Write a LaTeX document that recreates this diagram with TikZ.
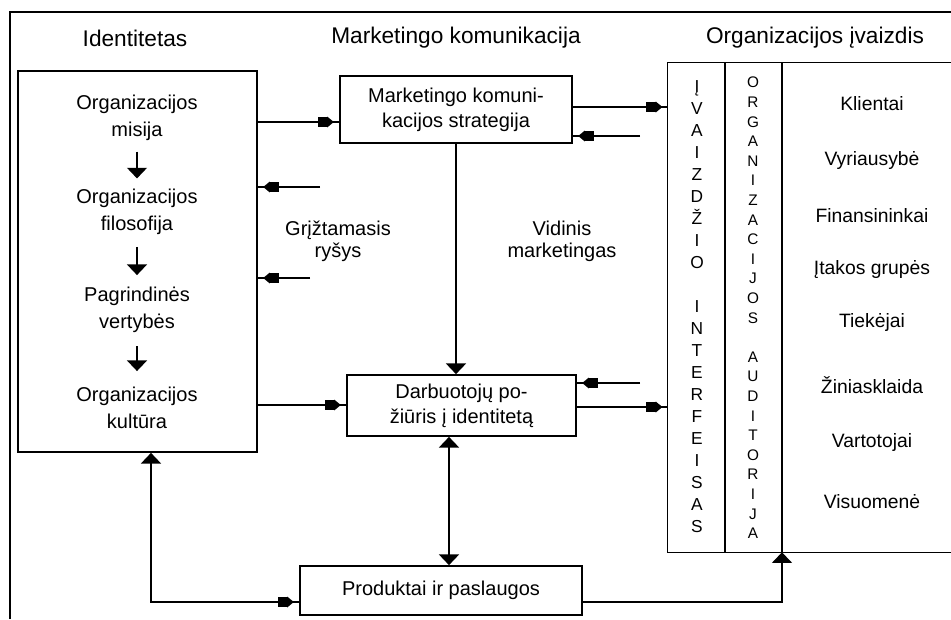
\documentclass[tikz,border=0pt]{standalone}
\usepackage{fontspec}
\setmainfont{Liberation Sans}
\usetikzlibrary{arrows.meta,decorations.markings,fit}

\tikzset{
  frameline/.style={line width=1pt},
  boxline/.style={line width=1.3pt},
  thinbox/.style={line width=1.1pt},
  box/.style={draw, boxline, inner sep=0pt, align=center,
    font=\fontsize{15}{19}\selectfont},
  lbl/.style={font=\fontsize{15}{20}\selectfont, align=center, inner sep=0pt},
  side/.style={font=\fontsize{15}{16.5}\selectfont, align=center, inner sep=0pt},
  head/.style={font=\fontsize{17}{20}\selectfont, inner sep=0pt},
  aud/.style={font=\fontsize{14.5}{17}\selectfont, inner sep=0pt},
  con/.style={line width=1pt},
  % block-shaped tip set a little before the end of the line
  blkend/.style={postaction={decorate}, decoration={markings,
    mark=at position -4pt with {\arrow{Rectangle[length=7pt,width=7.5pt] Triangle[length=5pt,width=8pt]}}}},
  wide/.style={-{Triangle[length=8pt,width=15pt]}},
  widestart/.style={{Triangle[length=8pt,width=15pt]}-},
  dbl/.style={{Triangle[length=8pt,width=15pt]}-{Triangle[length=8pt,width=15pt]}},
}

\begin{document}
\begin{tikzpicture}[x=0.75pt, y=-0.75pt]
\useasboundingbox (0,0) rectangle (951,619);

% outer frame
\draw[frameline] (10,619) -- (10,12) -- (951,12);

% column headings
\node[head] (h1) at (135,38) {Identitetas};
\node[head] (h2) at (456,38) {Marketingo komunikacija};
\node[head] (h3) at (815,38) {Organizacijos įvaizdis};

% identity box
\node[draw, boxline, inner sep=0pt, fit={(18,71) (257,452)}] (idbox) {};
\node[lbl] (misija) at (137,118) {Organizacijos\\misija};
\node[lbl] (filo) at (137,212) {Organizacijos\\filosofija};
\node[lbl] (vert) at (137,310) {Pagrindinės\\vertybės};
\node[lbl] (kult) at (137,408) {Organizacijos\\kultūra};
\draw[con, wide, shorten <=8pt, shorten >=8pt] (misija) -- (filo);
\draw[con, wide, shorten <=9pt, shorten >=9pt] (filo) -- (vert);
\draw[con, wide, shorten <=10pt, shorten >=12pt] (vert) -- (kult);

% marketing communication
\node[box, minimum width=174pt, minimum height=50.25pt] (mks) at (456,109.5)
  {Marketingo komuni-\\kacijos strategija};
\node[box, minimum width=171.75pt, minimum height=45.75pt] (dbx) at (461.5,405.5)
  {Darbuotojų po-\\žiūris į identitetą};
\node[box, minimum width=211.5pt, minimum height=36.75pt] (pr) at (441,590.5)
  {Produktai ir paslaugos};

\node[side] (gr) at (338,241) {Grįžtamasis\\ryšys};
\node[side] (vm) at (562,241) {Vidinis\\marketingas};

% image box
\node[inner sep=0pt, fit={(668,63) (951,552)}] (img) {};
\draw[thinbox] (img.north east) -- (img.north west) -- (img.south west) -- (img.south east);
\draw[thinbox] (img.north -| 725,0) -- (img.south -| 725,0);
\draw[thinbox] (img.north -| 782,0) -- (img.south -| 782,0);

\node[font=\fontsize{13}{16.5}\selectfont, align=center, inner sep=0pt] (ivz) at (697,307)
  {Į\\V\\A\\I\\Z\\D\\Ž\\I\\O\\[16.5pt]I\\N\\T\\E\\R\\F\\E\\I\\S\\A\\S};
\node[font=\fontsize{11.5}{14.7}\selectfont, align=center, inner sep=0pt] (oa) at (753,308)
  {O\\R\\G\\A\\N\\I\\Z\\A\\C\\I\\J\\O\\S\\[14.7pt]A\\U\\D\\I\\T\\O\\R\\I\\J\\A};

\node[aud] (a1) at (872,104) {Klientai};
\node[aud] (a2) at (872,160) {Vyriausybė};
\node[aud] (a3) at (872,216) {Finansininkai};
\node[aud] (a4) at (872,270) {Įtakos grupės};
\node[aud] (a5) at (872,322) {Tiekėjai};
\node[aud] (a6) at (872,385) {Žiniasklaida};
\node[aud] (a7) at (872,442) {Vartotojai};
\node[aud] (a8) at (872,502) {Visuomenė};

% connectors
\coordinate (fb1) at (320,187);
\coordinate (fb2) at (310,278);
\coordinate (fb3) at (640,136);
\coordinate (fb4) at (640,383);

\draw[con, blkend] (idbox.east |- 0,122) -- (mks.west |- 0,122);
\draw[con, blkend] (fb1) -- (idbox.east |- fb1);
\draw[con, blkend] (fb2) -- (idbox.east |- fb2);
\draw[con, blkend] (idbox.east |- 0,405) -- (dbx.west |- 0,405);

\draw[con, blkend] (mks.east |- 0,107) -- (img.west |- 0,107);
\draw[con, blkend] (fb3) -- (mks.east |- fb3);
\draw[con, blkend] (fb4) -- (dbx.east |- fb4);
\draw[con, blkend] (dbx.east |- 0,407) -- (img.west |- 0,407);

\draw[con, wide] (mks.south) -- (dbx.north -| mks.south);
\draw[con, dbl] (dbx.south -| 449,0) -- (pr.north -| 449,0);

\draw[con, widestart, blkend] (idbox.south -| 151,0) |- (pr.west |- 0,602);
\draw[con, wide] (pr.east |- 0,602) -| (img.south -| 782,0);
\end{tikzpicture}
\end{document}
